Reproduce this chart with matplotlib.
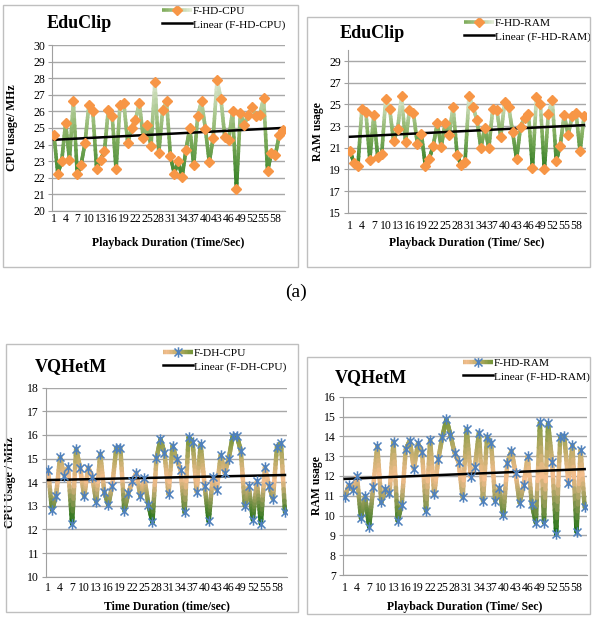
import numpy as np
import matplotlib
matplotlib.use('Agg')
import matplotlib.pyplot as plt
from matplotlib.collections import LineCollection
from matplotlib.colors import LinearSegmentedColormap
from matplotlib.lines import Line2D
from matplotlib.legend_handler import HandlerBase
from matplotlib.patches import Rectangle
from matplotlib.path import Path

plt.rcParams['font.family'] = 'Liberation Serif'

# playback seconds
seconds = np.arange(1, 61)

# EduClip
cpu_edu = [24.6, 22.25, 23.0, 25.3, 23.1, 26.6, 22.2, 22.8, 24.1, 26.4,
           26.0, 22.5, 23.1, 23.6, 26.1, 25.7, 22.5, 26.4, 26.5, 24.1,
           25.0, 25.5, 26.5, 24.4, 25.2, 23.9, 27.8, 23.5, 26.1, 26.6,
           23.3, 22.25, 23.0, 22.05, 23.7, 25.0, 22.75, 25.7, 26.6, 24.95,
           22.95, 24.4, 27.9, 26.75, 24.45, 24.3, 26.0, 21.3, 25.9, 25.2,
           25.8, 26.25, 25.7, 25.8, 26.8, 22.4, 23.5, 23.35, 24.55, 24.9]
ram_edu = [20.7, 19.6, 19.3, 24.6, 24.3, 19.9, 24.0, 20.1, 20.4, 25.5,
           24.6, 21.6, 22.7, 25.8, 21.5, 24.5, 24.2, 21.3, 22.3, 19.3,
           20.0, 21.2, 23.25, 21.1, 23.25, 22.2, 24.8, 20.35, 19.4, 19.65,
           25.75, 24.8, 23.55, 21.0, 22.85, 20.95, 24.6, 24.5, 22.0, 25.25,
           24.8, 22.45, 19.95, 22.95, 23.75, 24.15, 19.1, 25.65, 25.0, 19.0,
           24.1, 25.4, 19.75, 21.2, 24.0, 22.2, 23.9, 24.2, 20.65, 23.9]

# VQHetM
cpu_vq = [14.5, 12.83, 13.42, 15.06, 14.28, 14.63, 12.24, 15.41, 14.6, 13.4,
          14.62, 14.24, 13.18, 15.2, 13.6, 13.04, 13.86, 15.46, 15.46, 12.8,
          13.54, 14.03, 14.4, 13.4, 14.17, 13.04, 12.3, 15.01, 15.82, 15.25,
          13.5, 15.54, 14.97, 14.52, 12.72, 15.9, 15.72, 13.6, 15.6, 13.85,
          12.34, 14.2, 13.68, 15.15, 14.38, 15.0, 15.96, 15.96, 15.34, 13.0,
          13.82, 12.41, 14.03, 12.24, 14.63, 13.85, 13.3, 15.5, 15.65, 12.73]
ram_vq = [10.92, 11.54, 11.29, 11.99, 9.86, 10.98, 9.43, 11.42, 13.51, 10.66,
          11.32, 11.12, 13.73, 9.74, 10.53, 13.34, 13.78, 12.35, 13.64, 13.22,
          10.24, 13.81, 11.08, 12.84, 13.98, 14.86, 14.06, 13.17, 12.7, 10.92,
          14.37, 11.93, 12.43, 14.18, 10.75, 13.98, 13.64, 10.75, 11.4, 10.02,
          12.67, 13.27, 12.16, 10.65, 11.54, 13.0, 10.58, 9.64, 14.7, 9.65,
          14.65, 12.72, 9.05, 13.98, 14.01, 11.62, 13.56, 9.18, 13.31, 10.41]

green_cmap = LinearSegmentedColormap.from_list('g', ['#2a7a1e', '#86b062', '#e0ead3'])
peach_cmap = LinearSegmentedColormap.from_list('p', [(0, '#0b6b0b'), (0.5, '#f6be8e'), (1, '#76963a')])

# excel style "star" marker: an x with a vertical stroke
star = Path([(-1, -1), (1, 1), (-1, 1), (1, -1), (0, -1.3), (0, 1.3)],
            [Path.MOVETO, Path.LINETO] * 3)
diamond_kw = dict(marker='D', ms=5.6, mfc='#f79646', mec='#f79646')
star_kw = dict(marker=star, ms=7.5, mfc='none', mec='#4f81bd', mew=1.1)


class GradHandler(HandlerBase):
    def __init__(self, cmap, lw, mkw):
        super().__init__()
        self.cmap, self.lw, self.mkw = cmap, lw, mkw

    def create_artists(self, legend, orig_handle, xdescent, ydescent, width, height, fontsize, trans):
        xs = np.linspace(-xdescent, width - xdescent, 21)
        yc = height / 2 - ydescent
        segs = [[(xs[i], yc), (xs[i + 1], yc)] for i in range(20)]
        lc = LineCollection(segs, colors=self.cmap(np.linspace(0.45, 1, 20)),
                            linewidths=self.lw, transform=trans)
        mk = Line2D([width / 2 - xdescent], [yc], linestyle='none', transform=trans, **self.mkw)
        return [lc, mk]


def grad_line(ax, x, y, cmap, lw):
    segs, vals = [], []
    t = np.linspace(0, 1, 13)
    for i in range(len(x) - 1):
        px = x[i] + (x[i + 1] - x[i]) * t
        py = y[i] + (y[i + 1] - y[i]) * t
        for k in range(len(t) - 1):
            segs.append([(px[k], py[k]), (px[k + 1], py[k + 1])])
            vals.append((py[k] + py[k + 1]) / 2)
    lc = LineCollection(segs, cmap=cmap, linewidths=lw, capstyle='round', zorder=2)
    lc.set_array(np.array(vals))
    lc.set_clim(min(y), max(y))
    ax.add_collection(lc)


def panel(rect, y, cmap, lw, mkw, name, title, ylim, yticks, ylabel, xlabel,
          ylab_x, xlab_y, xpad, title_xy, leg_xy):
    ax = fig.add_axes(rect)
    y = np.array(y)
    grad_line(ax, seconds, y, cmap, lw)
    coef = np.polyfit(seconds, y, 1)
    ax.plot(seconds, np.polyval(coef, seconds), color='black', lw=1.8, zorder=3)
    ax.plot(seconds, y, linestyle='none', zorder=4, **mkw)
    ax.set_xlim(0.5, 60.5)
    ax.set_ylim(*ylim)
    ax.set_yticks(yticks)
    ax.set_xticks(np.arange(1, 59, 3))
    ax.grid(axis='y', color='#a8a8a8', lw=1.0)
    ax.set_axisbelow(True)
    for s in ['top', 'right']:
        ax.spines[s].set_visible(False)
    for s in ['left', 'bottom']:
        ax.spines[s].set_color('#a0a0a0')
    ax.tick_params(axis='y', length=3, color='#a0a0a0', labelsize=8.5, pad=2)
    ax.tick_params(axis='x', length=0, labelsize=8.5, pad=xpad)
    ax.set_ylabel(ylabel, fontsize=8.5, fontweight='bold')
    ax.set_xlabel(xlabel, fontsize=8.5, fontweight='bold')
    ax.yaxis.set_label_coords(ylab_x, 0.5)
    ax.xaxis.set_label_coords(0.5, xlab_y)
    fig.text(title_xy[0] / W, 1 - title_xy[1] / H, title, fontsize=13,
             fontweight='bold', va='center')
    h1 = Line2D([], [])
    h2 = Line2D([], [], color='black', lw=1.8)
    ax.legend([h1, h2], [name, 'Linear (' + name + ')'],
              handler_map={h1: GradHandler(cmap, lw, mkw)},
              loc='upper left', bbox_to_anchor=(leg_xy[0] / W, 1 - leg_xy[1] / H),
              bbox_transform=fig.transFigure, frameon=False, fontsize=8.2,
              handlelength=2.6, handletextpad=0.1, labelspacing=0.3,
              borderpad=0, borderaxespad=0)
    return ax


W, H = 593, 619
fig = plt.figure(figsize=(W / 100, H / 100), dpi=100)

# panel borders
for bx, by, bw, bh in [(3, 5, 295, 262), (307, 17, 283, 250), (6, 344, 292, 268), (307, 357, 283, 257)]:
    fig.add_artist(Rectangle((bx / W, 1 - (by + bh) / H), bw / W, bh / H,
                             transform=fig.transFigure, fill=False, ec='#bfbfbf', lw=1))

panel([52 / W, 1 - 211 / H, 233 / W, 166 / H], cpu_edu, green_cmap, 2.6, diamond_kw,
      'F-HD-CPU', 'EduClip', (20, 30), range(20, 31), 'CPU usage/ MHz',
      'Playback Duration (Time/Sec)', -0.146, -0.157, 1.5, (47, 23), (162, 6))
panel([348 / W, 1 - 212.7 / H, 238 / W, 162.5 / H], ram_edu, green_cmap, 2.6, diamond_kw,
      'F-HD-RAM', 'EduClip', (15, 30), range(15, 30, 2), 'RAM usage',
      'Playback Duration (Time/ Sec)', -0.10, -0.15, 5.5, (340, 33), (464, 18))
panel([46 / W, 1 - 576.7 / H, 241 / W, 189 / H], cpu_vq, peach_cmap, 3.2, star_kw,
      'F-DH-CPU', 'VQHetM', (10, 18), range(10, 19), 'CPU Usage / MHz',
      'Time Duration (time/sec)', -0.124, -0.123, 4, (35, 367), (163, 348))
panel([342.7 / W, 1 - 575 / H, 244 / W, 178.3 / H], ram_vq, peach_cmap, 3.2, star_kw,
      'F-HD-RAM', 'VQHetM', (7, 16), range(7, 17), 'RAM usage',
      'Playback Duration (Time/ Sec)', -0.081, -0.146, 5, (335, 378), (463, 358))

fig.text(296 / W, 1 - 292 / H, '(a)', fontsize=14, ha='center', va='center')

fig.savefig('out.png', dpi=100)
